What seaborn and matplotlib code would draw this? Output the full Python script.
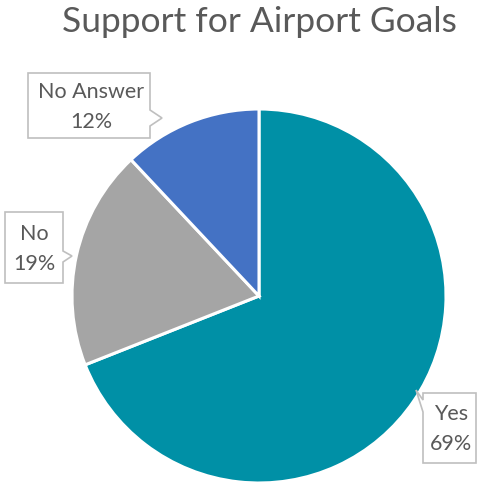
import matplotlib
matplotlib.use("Agg")
import matplotlib.pyplot as plt
import seaborn as sns
from matplotlib.patches import Polygon

sns.set_theme(style="white")
plt.rcParams['font.family'] = ['Source Sans Pro', 'Lato', 'DejaVu Sans']

categories = ["Yes", "No", "No Answer"]
values = [69, 19, 12]
colors = ["#0090A6", "#A5A5A5", "#4472C4"]
title = "Support for Airport Goals"

W, H = 479, 484
fig = plt.figure(figsize=(W / 100, H / 100), dpi=100)
cx, cy, r = 259, 296, 187
ax = fig.add_axes([(cx - r) / W, (H - cy - r) / H, 2 * r / W, 2 * r / H])
ax.pie(values, colors=colors, startangle=90, counterclock=False,
       wedgeprops=dict(edgecolor="white", linewidth=2.2), radius=1.0)
ax.set_xlim(-1.0, 1.0)
ax.set_ylim(-1.0, 1.0)
ax.set_aspect("equal")
ax.axis("off")

fig.text(259 / W, 1 - 22 / H, title, ha="center", va="center",
         fontsize=25.5, color="#595959")

def px(x, y):
    return (x / W, 1 - y / H)

callouts = [
    (2, [(28, 73), (150, 73), (150, 110), (162, 118), (150, 126), (150, 138), (28, 138)]),
    (1, [(5, 212), (63, 212), (63, 251), (72, 256), (63, 262), (63, 283), (5, 283)]),
    (0, [(423, 393), (476, 393), (476, 463), (423, 463), (423, 412), (416, 390), (423, 400)]),
]
centers = {2: (91, 107), 1: (34, 249), 0: (451, 429)}
for idx, pts in callouts:
    poly = Polygon([px(x, y) for x, y in pts], closed=True, transform=fig.transFigure,
                   facecolor="white", edgecolor="#BFBFBF", linewidth=1.2)
    fig.add_artist(poly)
    x, y = centers[idx]
    fig.text(x / W, 1 - y / H, f"{categories[idx]}\n{values[idx]}%", ha="center",
             va="center", fontsize=15.5, color="#595959", linespacing=1.6)

fig.savefig("out.png", dpi=100)
